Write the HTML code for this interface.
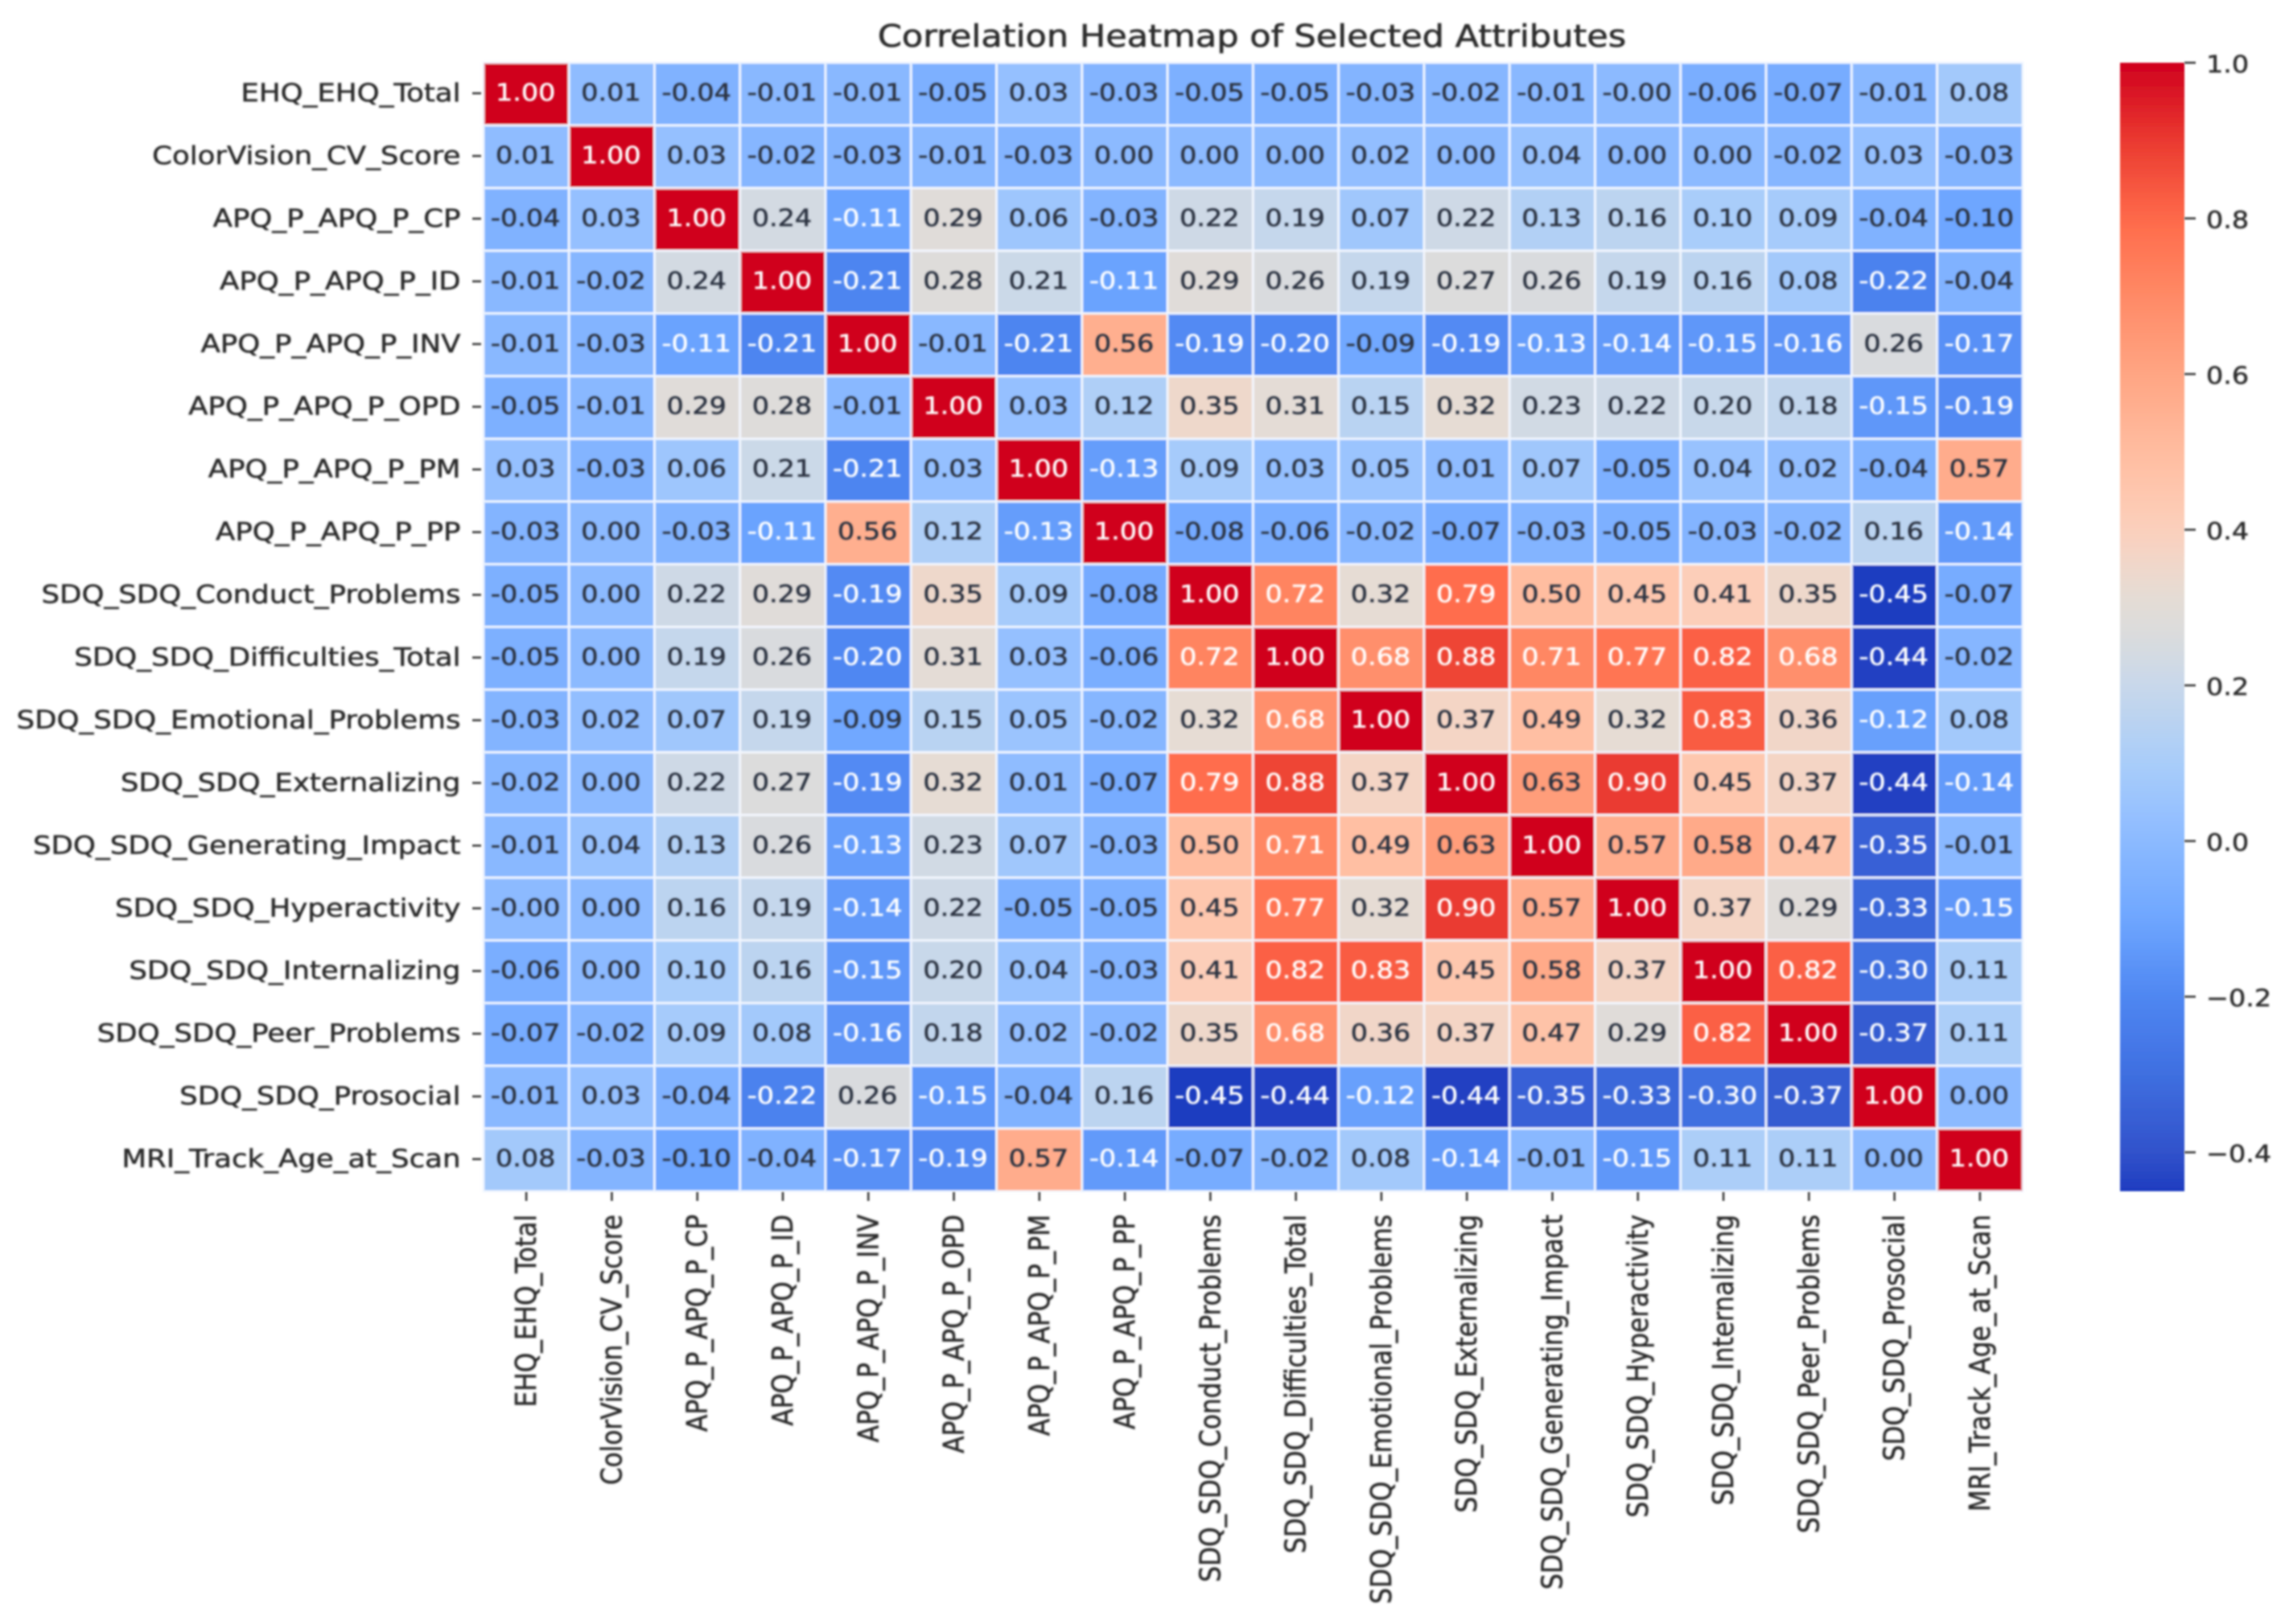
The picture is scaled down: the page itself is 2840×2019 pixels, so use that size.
<!DOCTYPE html>
<html lang="en">
<head>
<meta charset="utf-8">
<title>Correlation Heatmap of Selected Attributes</title>
<style>
  html, body { margin: 0; padding: 0; background: #fff; }
  body { width: 2840px; height: 2019px; overflow: hidden; }
  svg { display: block; }
  text { font-family: "DejaVu Sans", "Liberation Sans", sans-serif; }
</style>
</head>
<body>
<svg id="chart" xmlns="http://www.w3.org/2000/svg" width="2840" height="2019" viewBox="0 0 2840 2019">
  <defs>
    <filter id="soft-text" x="-5%" y="-5%" width="110%" height="110%"><feGaussianBlur stdDeviation="1.4"/></filter>
    <filter id="soft-marks" x="-2%" y="-2%" width="104%" height="104%"><feGaussianBlur stdDeviation="1"/></filter>
    <linearGradient id="colorbar-gradient" x1="0" y1="0" x2="0" y2="1"></linearGradient>
  </defs>
  <rect x="0" y="0" width="2840" height="2019" fill="#ffffff"/>
  <g id="cells" filter="url(#soft-marks)"></g>
  <g id="colorbar" filter="url(#soft-marks)"></g>
  <g id="ticks" filter="url(#soft-marks)"></g>
  <g id="labels" filter="url(#soft-text)"></g>
  <g id="annotations" filter="url(#soft-text)"></g>
  <g filter="url(#soft-text)">
    <text transform="translate(1556,58) scale(1.133,1)" text-anchor="middle" font-size="38" fill="#2a2a2a" stroke="#2a2a2a" stroke-width="0.6">Correlation Heatmap of Selected Attributes</text>
  </g>
</svg>
<script>
const attributeLabels = [
  "EHQ_EHQ_Total", "ColorVision_CV_Score", "APQ_P_APQ_P_CP", "APQ_P_APQ_P_ID",
  "APQ_P_APQ_P_INV", "APQ_P_APQ_P_OPD", "APQ_P_APQ_P_PM", "APQ_P_APQ_P_PP",
  "SDQ_SDQ_Conduct_Problems", "SDQ_SDQ_Difficulties_Total", "SDQ_SDQ_Emotional_Problems",
  "SDQ_SDQ_Externalizing", "SDQ_SDQ_Generating_Impact", "SDQ_SDQ_Hyperactivity",
  "SDQ_SDQ_Internalizing", "SDQ_SDQ_Peer_Problems", "SDQ_SDQ_Prosocial", "MRI_Track_Age_at_Scan"
];

const correlationMatrix = [
  [1.00, 0.01, -0.04, -0.01, -0.01, -0.05, 0.03, -0.03, -0.05, -0.05, -0.03, -0.02, -0.01, -0.00, -0.06, -0.07, -0.01, 0.08],
  [0.01, 1.00, 0.03, -0.02, -0.03, -0.01, -0.03, 0.00, 0.00, 0.00, 0.02, 0.00, 0.04, 0.00, 0.00, -0.02, 0.03, -0.03],
  [-0.04, 0.03, 1.00, 0.24, -0.11, 0.29, 0.06, -0.03, 0.22, 0.19, 0.07, 0.22, 0.13, 0.16, 0.10, 0.09, -0.04, -0.10],
  [-0.01, -0.02, 0.24, 1.00, -0.21, 0.28, 0.21, -0.11, 0.29, 0.26, 0.19, 0.27, 0.26, 0.19, 0.16, 0.08, -0.22, -0.04],
  [-0.01, -0.03, -0.11, -0.21, 1.00, -0.01, -0.21, 0.56, -0.19, -0.20, -0.09, -0.19, -0.13, -0.14, -0.15, -0.16, 0.26, -0.17],
  [-0.05, -0.01, 0.29, 0.28, -0.01, 1.00, 0.03, 0.12, 0.35, 0.31, 0.15, 0.32, 0.23, 0.22, 0.20, 0.18, -0.15, -0.19],
  [0.03, -0.03, 0.06, 0.21, -0.21, 0.03, 1.00, -0.13, 0.09, 0.03, 0.05, 0.01, 0.07, -0.05, 0.04, 0.02, -0.04, 0.57],
  [-0.03, 0.00, -0.03, -0.11, 0.56, 0.12, -0.13, 1.00, -0.08, -0.06, -0.02, -0.07, -0.03, -0.05, -0.03, -0.02, 0.16, -0.14],
  [-0.05, 0.00, 0.22, 0.29, -0.19, 0.35, 0.09, -0.08, 1.00, 0.72, 0.32, 0.79, 0.50, 0.45, 0.41, 0.35, -0.45, -0.07],
  [-0.05, 0.00, 0.19, 0.26, -0.20, 0.31, 0.03, -0.06, 0.72, 1.00, 0.68, 0.88, 0.71, 0.77, 0.82, 0.68, -0.44, -0.02],
  [-0.03, 0.02, 0.07, 0.19, -0.09, 0.15, 0.05, -0.02, 0.32, 0.68, 1.00, 0.37, 0.49, 0.32, 0.83, 0.36, -0.12, 0.08],
  [-0.02, 0.00, 0.22, 0.27, -0.19, 0.32, 0.01, -0.07, 0.79, 0.88, 0.37, 1.00, 0.63, 0.90, 0.45, 0.37, -0.44, -0.14],
  [-0.01, 0.04, 0.13, 0.26, -0.13, 0.23, 0.07, -0.03, 0.50, 0.71, 0.49, 0.63, 1.00, 0.57, 0.58, 0.47, -0.35, -0.01],
  [-0.00, 0.00, 0.16, 0.19, -0.14, 0.22, -0.05, -0.05, 0.45, 0.77, 0.32, 0.90, 0.57, 1.00, 0.37, 0.29, -0.33, -0.15],
  [-0.06, 0.00, 0.10, 0.16, -0.15, 0.20, 0.04, -0.03, 0.41, 0.82, 0.83, 0.45, 0.58, 0.37, 1.00, 0.82, -0.30, 0.11],
  [-0.07, -0.02, 0.09, 0.08, -0.16, 0.18, 0.02, -0.02, 0.35, 0.68, 0.36, 0.37, 0.47, 0.29, 0.82, 1.00, -0.37, 0.11],
  [-0.01, 0.03, -0.04, -0.22, 0.26, -0.15, -0.04, 0.16, -0.45, -0.44, -0.12, -0.44, -0.35, -0.33, -0.30, -0.37, 1.00, 0.00],
  [0.08, -0.03, -0.10, -0.04, -0.17, -0.19, 0.57, -0.14, -0.07, -0.02, 0.08, -0.14, -0.01, -0.15, 0.11, 0.11, 0.00, 1.00]
];

const colorbarTicks = [1.0, 0.8, 0.6, 0.4, 0.2, 0.0, -0.2, -0.4];
const colorDomain = [-0.45, 1.0];

const NS = "http://www.w3.org/2000/svg";
const plotLeft = 601, plotRight = 2514, plotTop = 78, plotBottom = 1481;
const barLeft = 2635, barRight = 2715;
const stretchX = 1.133;

function xBand(i) { return plotLeft + (plotRight - plotLeft) * i / attributeLabels.length; }
function yBand(i) { return plotTop + (plotBottom - plotTop) * i / attributeLabels.length; }
function barY(v) {
  return plotTop + (colorDomain[1] - v) / (colorDomain[1] - colorDomain[0]) * (plotBottom - plotTop);
}

function colorFor(v) {
  const ramp = [
    [-0.45, 30, 60, 192], [-0.4, 50, 83, 203], [-0.3, 63, 111, 224], [-0.2, 79, 135, 242],
    [-0.1, 110, 166, 255], [0.0, 140, 186, 255], [0.03, 149, 192, 255], [0.1, 169, 205, 250],
    [0.2, 200, 216, 234], [0.27, 220, 220, 220], [0.32, 230, 220, 212], [0.4, 252, 208, 188],
    [0.5, 255, 189, 160], [0.6, 255, 165, 131], [0.7, 255, 138, 102], [0.8, 255, 106, 74],
    [0.9, 234, 58, 48], [1.0, 208, 0, 30]
  ];
  if (v <= ramp[0][0]) return "rgb(" + ramp[0].slice(1).join(",") + ")";
  for (let k = 1; k < ramp.length; k++) {
    if (v <= ramp[k][0]) {
      const a = ramp[k - 1], b = ramp[k], t = (v - a[0]) / (b[0] - a[0]);
      return "rgb(" + [1, 2, 3].map(c => Math.round(a[c] + (b[c] - a[c]) * t)).join(",") + ")";
    }
  }
  return "rgb(" + ramp[ramp.length - 1].slice(1).join(",") + ")";
}

function formatCell(v) {
  if (Object.is(v, -0)) return "-0.00";
  return v.toFixed(2);
}
function formatTick(v) {
  return (v < 0 ? "\u2212" : "") + Math.abs(v).toFixed(1);
}

function make(tag, attrs, parent, content) {
  const el = document.createElementNS(NS, tag);
  for (const key in attrs) el.setAttribute(key, attrs[key]);
  if (content !== undefined) el.textContent = content;
  parent.appendChild(el);
  return el;
}

const cellsLayer = document.getElementById("cells");
const annotationsLayer = document.getElementById("annotations");
const ticksLayer = document.getElementById("ticks");
const labelsLayer = document.getElementById("labels");
const colorbarLayer = document.getElementById("colorbar");
const gradient = document.getElementById("colorbar-gradient");

correlationMatrix.forEach((row, r) => {
  row.forEach((value, c) => {
    const cell = make("rect", {
      x: xBand(c), y: yBand(r),
      width: xBand(c + 1) - xBand(c), height: yBand(r + 1) - yBand(r),
      fill: colorFor(value), stroke: "#f4f8ff", "stroke-opacity": 0.8, "stroke-width": 3.2
    }, cellsLayer);
    
    

    const cx = (xBand(c) + xBand(c + 1)) / 2;
    const cy = (yBand(r) + yBand(r + 1)) / 2;
    const light = value >= 0.65 || value <= -0.105;
    const textColor = light ? "#ffffff" : "#2a3140";
    const note = make("text", {
      transform: "translate(" + (cx - 1) + "," + (cy + 8) + ") scale(" + stretchX + ",1)",
      "text-anchor": "middle", "font-size": 29.5,
      fill: textColor, stroke: textColor, "stroke-width": 0.5
    }, annotationsLayer, formatCell(value));
    
    
  });
});

attributeLabels.forEach((name, i) => {
  const cy = (yBand(i) + yBand(i + 1)) / 2;
  const cx = (xBand(i) + xBand(i + 1)) / 2;

  const yTick = make("line", { x1: 587, x2: 598, y1: cy - 1, y2: cy - 1, stroke: "#555555", "stroke-width": 3 }, ticksLayer);
  
  

  const xTick = make("line", { x1: cx, x2: cx, y1: plotBottom + 1, y2: plotBottom + 12, stroke: "#555555", "stroke-width": 3 }, ticksLayer);
  
  

  const yLabel = make("text", {
    transform: "translate(572.5," + (cy + 9) + ") scale(" + stretchX + ",1)",
    "text-anchor": "end", "font-size": 31.4,
    fill: "#2a2a2a", stroke: "#2a2a2a", "stroke-width": 0.5
  }, labelsLayer, name);
  
  

  const xLabel = make("text", {
    transform: "translate(" + (cx + 12) + ",1510) scale(" + stretchX + ",1) rotate(-90)",
    "text-anchor": "end", "font-size": 31.2,
    fill: "#2a2a2a", stroke: "#2a2a2a", "stroke-width": 0.5
  }, labelsLayer, name);
  
  
});

for (let s = 0; s <= 40; s++) {
  const v = colorDomain[1] - (colorDomain[1] - colorDomain[0]) * s / 40;
  make("stop", { offset: (s / 40), "stop-color": colorFor(v) }, gradient);
}
const barRect = make("rect", {
  x: barLeft, y: barY(colorDomain[1]), width: barRight - barLeft,
  height: barY(colorDomain[0]) - barY(colorDomain[1]), fill: "url(#colorbar-gradient)"
}, colorbarLayer);



colorbarTicks.forEach(v => {
  const y = barY(v);
  const tick = make("line", { x1: barRight, x2: barRight + 14, y1: y, y2: y, stroke: "#555555", "stroke-width": 3 }, ticksLayer);
  
  

  const label = make("text", {
    transform: "translate(2742," + (y + 12) + ") scale(" + stretchX + ",1)",
    "text-anchor": "start", "font-size": 29.5,
    fill: "#2a2a2a", stroke: "#2a2a2a", "stroke-width": 0.5
  }, labelsLayer, formatTick(v));
  
  
});
</script>
</body>
</html>
